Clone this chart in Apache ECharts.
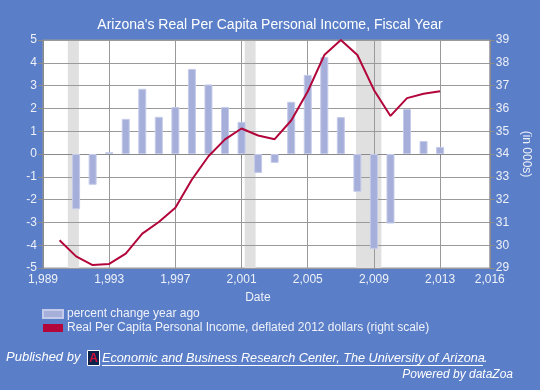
<!DOCTYPE html>
<html>
<head>
<meta charset="utf-8">
<script src="https://cdn.jsdelivr.net/npm/echarts@6/dist/echarts.min.js"></script>
<style>
html,body{margin:0;padding:0;background:#5a7ec7;}
#c{width:540px;height:390px;}
</style>
</head>
<body>
<div id="c"></div>
<script>
// Data
const barYears = [1991,1992,1993,1994,1995,1996,1997,1998,1999,2000,2001,2002,2003,2004,2005,2006,2007,2008,2009,2010,2011,2012,2013];
const pctChange = [-2.42,-1.35,0.08,1.54,2.86,1.63,2.06,3.73,3.05,2.06,1.41,-0.83,-0.39,2.29,3.47,4.25,1.62,-1.66,-4.16,-3.05,1.97,0.57,0.31];
const lineYears = [1990,1991,1992,1993,1994,1995,1996,1997,1998,1999,2000,2001,2002,2003,2004,2005,2006,2007,2008,2009,2010,2011,2012,2013];
const income = [30.22,29.51,29.13,29.18,29.63,30.51,31.02,31.64,32.88,33.90,34.64,35.12,34.81,34.65,35.47,36.74,38.34,39.0,38.34,36.81,35.67,36.45,36.64,36.75];
const recessions = [[1990.5,1991.17],[2001.19,2001.85],[2007.92,2009.45]];
const xTicks = {min:1989, max:2016, interval:4};
const leftTicks = {min:-5, max:5, interval:1};
const rightTicks = {min:29, max:39, interval:1};
const barName = 'percent change year ago';
const lineName = 'Real Per Capita Personal Income, deflated 2012 dollars (right scale)';

const chart = echarts.init(document.getElementById('c'), null, {renderer:'canvas'});
const FONT = 'Liberation Sans, Arial, sans-serif';
const txt = '#eef1f9';
const axisCommon = {
  z: 2,
  axisLine:{show:true, lineStyle:{color:'#8a8a8a', width:1}},
  axisTick:{show:true, length:5, lineStyle:{color:'#8a8a8a'}},
  axisLabel:{color:txt, fontSize:12, fontFamily:FONT},
  splitLine:{show:true, lineStyle:{color:'#9a9a9a', width:1}}
};
chart.setOption({
  backgroundColor:'#5a7ec7',
  animation:false,
  title:{text:"Arizona's Real Per Capita Personal Income, Fiscal Year", left:'center', top:13,
    textStyle:{color:'#ffffff', fontSize:14, fontWeight:'normal', fontFamily:FONT}},
  grid:{left:43, right:48, top:40, bottom:122, show:true, backgroundColor:'#ffffff', borderColor:'#9a9a9a', borderWidth:1},
  xAxis:Object.assign({}, axisCommon, {type:'value', min:xTicks.min, max:xTicks.max, interval:xTicks.interval,
    name:'Date', nameLocation:'middle', nameGap:24,
    nameTextStyle:{color:txt, fontSize:12, fontFamily:FONT, padding:[0,17,0,0]},
    axisLabel:{color:txt, fontSize:12, fontFamily:FONT, margin:6, showMaxLabel:true, showMinLabel:true}}),
  yAxis:[
    Object.assign({}, axisCommon, {type:'value', position:'left', min:leftTicks.min, max:leftTicks.max, interval:leftTicks.interval,
      axisLabel:{color:txt, fontSize:12, fontFamily:FONT, margin:6}}),
    Object.assign({}, axisCommon, {type:'value', position:'right', min:rightTicks.min, max:rightTicks.max, interval:rightTicks.interval,
      splitLine:{show:false},
      name:'(in 000s)', nameLocation:'middle', nameRotate:-90, nameGap:18,
      nameTextStyle:{color:txt, fontSize:12, fontFamily:FONT},
      axisLabel:{color:txt, fontSize:12, fontFamily:FONT, margin:6}})
  ],
  legend:{orient:'vertical', left:37, top:303, itemWidth:20, itemHeight:8, itemGap:2,
    textStyle:{color:txt, fontSize:12, fontFamily:FONT, padding:[0,0,0,-1]},
    data:[{name:barName, icon:'rect'},{name:lineName, icon:'rect'}]},
  series:[
    {type:'line', name:'recessions', data:[], z:1, silent:true,
      markArea:{silent:true, itemStyle:{color:'#e0e0e0'},
        data: recessions.map(r => [{xAxis:r[0]},{xAxis:r[1]}])}},
    {type:'bar', name:barName, z:3, barWidth:8,
      itemStyle:{color:'#a6afda', borderColor:'#c4cbea', borderWidth:1},
      data: barYears.map((y,i)=>[y,pctChange[i]])},
    {type:'line', name:lineName, yAxisIndex:1, z:4, symbol:'none',
      lineStyle:{color:'#b2063b', width:2}, itemStyle:{color:'#b2063b'},
      data: lineYears.map((y,i)=>[y,income[i]])}
  ],
  graphic:[
    {type:'text', left:6, top:351, style:{text:'Published by', fill:'#ffffff', font:'italic 13px '+FONT}},
    {type:'group', left:87, top:350, children:[
      {type:'rect', shape:{x:0,y:0,width:12,height:15}, style:{fill:'#0c234b', stroke:'#ffffff', lineWidth:1}},
      {type:'text', x:6, y:8, style:{text:'A', fill:'#d0103a', font:'bold 12px '+FONT, align:'center', verticalAlign:'middle'}}
    ]},
    {type:'text', left:102, top:352, style:{text:'Economic and Business Research Center, The University of Arizona', fill:'#ffffff', font:'italic 12.7px '+FONT}},
    {type:'text', left:484, top:352, style:{text:'.', fill:'#ffffff', font:'italic 12.7px '+FONT}},
    {type:'line', shape:{x1:102, y1:365.5, x2:483, y2:365.5}, style:{stroke:'#ffffff', lineWidth:1}},
    {type:'text', right:27, top:369, style:{text:'Powered by dataZoa', fill:'#ffffff', font:'italic 12px '+FONT}}
  ]
});
</script>
</body>
</html>
